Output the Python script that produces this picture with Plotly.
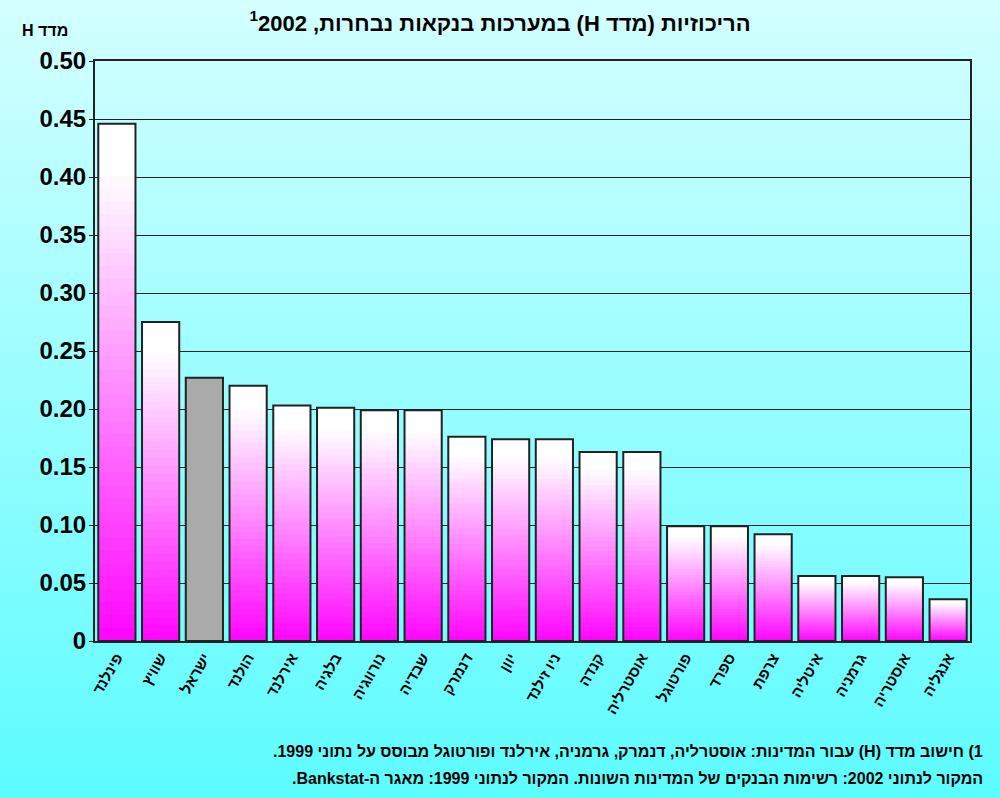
import base64
import plotly.graph_objects as go

countries = ["פינלנד", "שוויץ", "ישראל", "הולנד", "אירלנד", "בלגיה", "נורווגיה", "שבדיה",
             "דנמרק", "יוון", "ניו זילנד", "קנדה", "אוסטרליה", "פורטוגל", "ספרד", "צרפת",
             "איטליה", "גרמניה", "אוסטריה", "אנגליה"]
h_index = [0.446, 0.275, 0.227, 0.220, 0.203, 0.201, 0.199, 0.199,
           0.176, 0.174, 0.174, 0.163, 0.163, 0.099, 0.099, 0.092,
           0.056, 0.056, 0.055, 0.036]
highlight = "ישראל"

y_tickvals = [0, 0.05, 0.10, 0.15, 0.20, 0.25, 0.30, 0.35, 0.40, 0.45, 0.50]
y_ticktext = ["0", "0.05", "0.10", "0.15", "0.20", "0.25", "0.30", "0.35", "0.40", "0.45", "0.50"]

RLE, PDF, RLM = "\u202b", "\u202c", "\u200f"


def rtl(s):
    return RLE + s + PDF


title_text = "<b>" + rtl("הריכוזיות (מדד H) במערכות בנקאות נבחרות, 2002" + RLM + "<sup>1</sup>") + "</b>"
y_title = "<b>" + rtl("מדד H") + "</b>"
note1 = "<b>" + rtl("1) חישוב מדד (H) עבור המדינות: אוסטרליה, דנמרק, גרמניה, אירלנד ופורטוגל מבוסס על נתוני 1999.") + "</b>"
note2 = "<b>" + rtl("המקור לנתוני 2002: רשימות הבנקים של המדינות השונות. המקור לנתוני 1999: מאגר ה-Bankstat.") + "</b>"

W, H = 1000, 798
L, R, T, B = 95, 30, 61, 157
PW, PH = W - L - R, H - T - B

FONT = "Liberation Sans, DejaVu Sans, Arial, sans-serif"

fig = go.Figure()

N = 40
grey = "#aaaaaa"
for k in range(N):
    frac = (N - k) / N
    t = min(1.0, frac / 0.92)
    g = int(round(255 * t))
    col = f"rgb(255,{g},255)"
    fig.add_trace(go.Bar(
        x=countries,
        y=[v * frac for v in h_index],
        marker=dict(color=[grey if c == highlight else col for c in countries],
                    line=dict(width=0)),
        hoverinfo="skip", showlegend=False,
    ))

fig.add_trace(go.Bar(
    x=countries, y=h_index,
    marker=dict(color="rgba(0,0,0,0)", line=dict(color="#222222", width=2)),
    showlegend=False,
))

svg = (f"<svg xmlns='http://www.w3.org/2000/svg' width='{W}' height='{H}' preserveAspectRatio='none'>"
       "<defs><linearGradient id='g' x1='0' y1='0' x2='0' y2='1'>"
       "<stop offset='0' stop-color='#d4ffff'/><stop offset='1' stop-color='#5cfcff'/>"
       "</linearGradient></defs>"
       f"<rect width='{W}' height='{H}' fill='url(#g)'/></svg>")
src = "data:image/svg+xml;base64," + base64.b64encode(svg.encode()).decode()

fig.update_layout(
    width=W, height=H,
    margin=dict(l=L, r=R, t=T, b=B),
    paper_bgcolor="#9affff",
    plot_bgcolor="white",
    barmode="overlay",
    bargap=0.15,
    font=dict(family=FONT, color="black"),
    title=dict(text=title_text, x=0.5, xref="container", y=1 - 23 / H, yref="container",
               xanchor="center", yanchor="middle", font=dict(size=22, family=FONT)),
    images=[dict(source=src, xref="paper", yref="paper",
                 x=-L / PW, y=1 + T / PH, sizex=W / PW, sizey=H / PH,
                 xanchor="left", yanchor="top", sizing="stretch", layer="below")],
    xaxis=dict(tickangle=-60,
               showline=True, linecolor="#222222", linewidth=2, mirror=True,
               ticks="", showgrid=False),
    yaxis=dict(range=[0, 0.5], tickvals=y_tickvals, ticktext=y_ticktext,
               showgrid=True, gridcolor="#222222",
               gridwidth=1, showline=True, linecolor="#222222", linewidth=2, mirror=True,
               ticks="outside", ticklen=4, tickcolor="#222222", zeroline=False,
               ticklabelstandoff=-2),
    annotations=[
        dict(text=y_title, x=(45 - L) / PW, y=(H - B - 30) / PH, xref="paper", yref="paper",
             xanchor="center", yanchor="middle", showarrow=False, font=dict(size=16, family=FONT)),
        dict(text=note1, x=(985 - L) / PW, y=(H - B - 751) / PH, xref="paper", yref="paper",
             xanchor="right", yanchor="middle", showarrow=False, font=dict(size=16, family=FONT)),
        dict(text=note2, x=(985 - L) / PW, y=(H - B - 778) / PH, xref="paper", yref="paper",
             xanchor="right", yanchor="middle", showarrow=False, font=dict(size=16, family=FONT)),
    ],
)

fig.update_xaxes(tickfont=dict(size=15, family=FONT, weight="bold"))
fig.update_yaxes(tickfont=dict(size=24, family=FONT, weight="bold"))

fig.write_html("out.html", config={"displayModeBar": False},
               post_script="document.body.style.margin='0';")
